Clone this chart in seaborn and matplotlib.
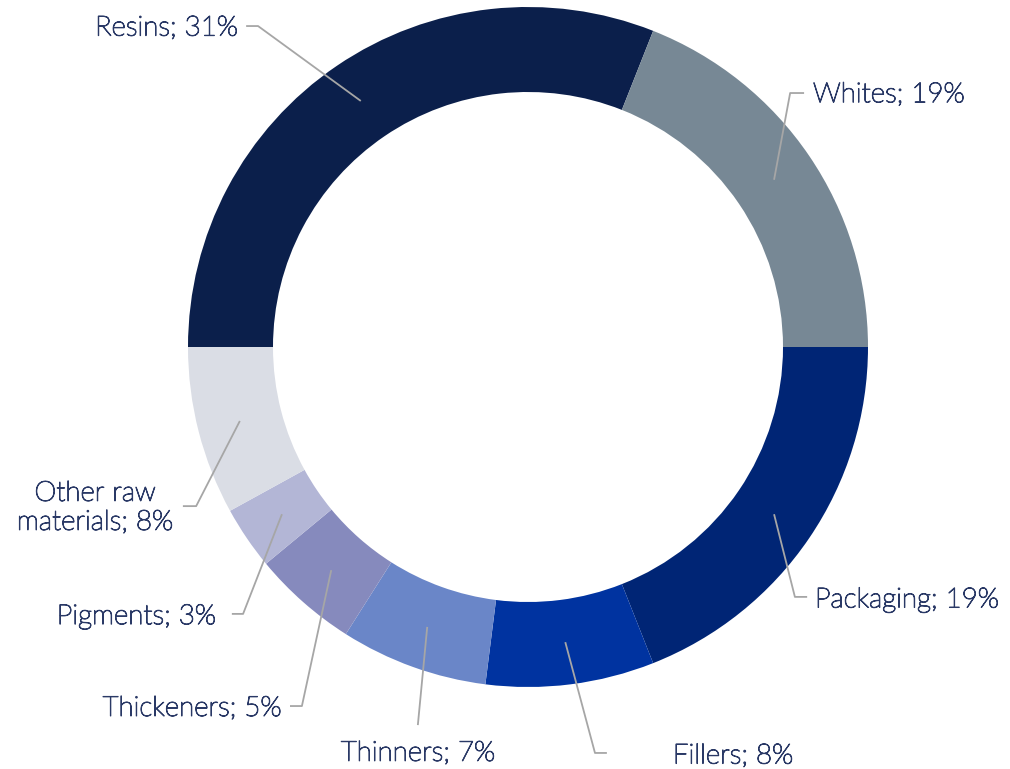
import matplotlib
matplotlib.use("Agg")
import matplotlib.pyplot as plt
import matplotlib.patheffects as pe
import numpy as np
import seaborn as sns

# Raw material cost breakdown
categories = ["Resins", "Whites", "Packaging", "Fillers", "Thinners",
              "Thickeners", "Pigments", "Other raw\nmaterials"]
shares = [31, 19, 19, 8, 7, 5, 3, 8]
colors = ["#0b1f4b", "#778895", "#002575", "#0033a0", "#6a86c8",
          "#868abd", "#b3b6d6", "#dadde5"]

sns.set_theme(style="white")
plt.rcParams["font.family"] = ["Lato", "DejaVu Sans"]

TEXT_COLOR = "#2a3966"
LINE_COLOR = "#a6a6a6"
RING_WIDTH = 0.25

W, H = 1010, 769
CX, CY, R = 528, 347, 340
fig = plt.figure(figsize=(W / 100, H / 100), dpi=100)
ax = fig.add_axes([0, 0, 1, 1])

palette = sns.color_palette(colors)
wedges, _ = ax.pie(shares, colors=palette, startangle=180, counterclock=False,
                   radius=1.0, wedgeprops=dict(width=RING_WIDTH, linewidth=0))

ax.set_xlim(-CX / R, (W - CX) / R)
ax.set_ylim(-(H - CY) / R, CY / R)
ax.set_aspect("equal")
ax.axis("off")

# leader-line layout: elbow point, horizontal stub length, text anchor
layout = [
    dict(elbow=(-0.794, 0.944), stub=-0.035, text=(-0.853, 0.938), ha="right"),
    dict(elbow=(0.771, 0.747), stub=0.041, text=(0.838, 0.742), ha="left"),
    dict(elbow=(0.785, -0.735), stub=0.036, text=(0.844, -0.744), ha="left"),
    dict(elbow=(0.197, -1.194), stub=0.035, text=(0.426, -1.203), ha="left"),
    dict(elbow=(-0.324, -1.112), stub=0.0, text=(-0.324, -1.195), ha="center"),
    dict(elbow=(-0.665, -1.056), stub=-0.035, text=(-0.726, -1.063), ha="right"),
    dict(elbow=(-0.838, -0.785), stub=-0.033, text=(-0.918, -0.793), ha="right"),
    dict(elbow=(-0.976, -0.468), stub=-0.039, text=(-1.044, -0.473), ha="right"),
]

# thin outline gives the light face a little more body
text_fx = [pe.withStroke(linewidth=0.8, foreground=TEXT_COLOR)]

mid_r = 1.0 - RING_WIDTH / 2
for w, name, val, lay in zip(wedges, categories, shares, layout):
    ang = np.deg2rad((w.theta1 + w.theta2) / 2)
    x0, y0 = mid_r * np.cos(ang), mid_r * np.sin(ang)
    ex, ey = lay["elbow"]
    xs = [x0, ex, ex + lay["stub"]]
    ys = [y0, ey, ey]
    ax.plot(xs, ys, color=LINE_COLOR, lw=1.3, solid_capstyle="butt")
    ax.text(lay["text"][0], lay["text"][1], f"{name}; {val}%",
            ha=lay["ha"], va="center", multialignment="center",
            fontsize=20, fontweight="light", color=TEXT_COLOR,
            linespacing=1.2, path_effects=text_fx)

fig.savefig("out.png", dpi=100, facecolor="white")
